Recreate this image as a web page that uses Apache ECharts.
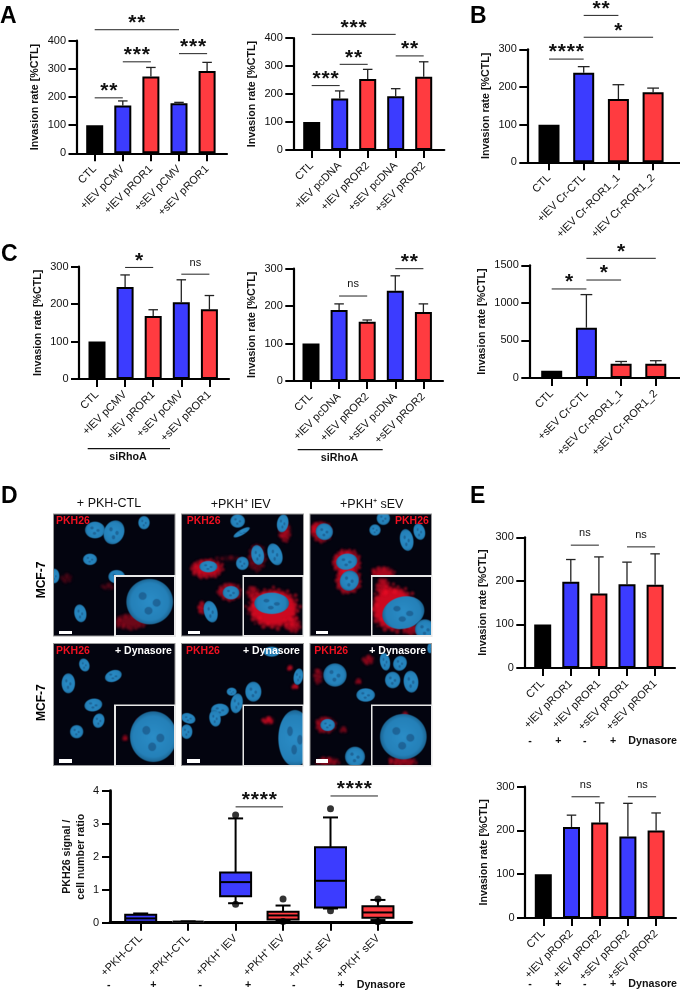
<!DOCTYPE html>
<html>
<head>
<meta charset="utf-8">
<script src="https://cdn.jsdelivr.net/npm/echarts@6/dist/echarts.min.js"></script>
<style>
  html, body { margin: 0; padding: 0; background: #fff; }
  #chart { width: 680px; height: 991px; }
</style>
</head>
<body>
<div id="chart"></div>
<script>
// tick labels
const catsA1 = ['CTL', '+lEV pCMV', '+lEV pROR1', '+sEV pCMV', '+sEV pROR1'];
const catsA2 = ['CTL', '+lEV pcDNA', '+lEV pROR2', '+sEV pcDNA', '+sEV pROR2'];
const catsB = ['CTL', '+lEV Cr-CTL', '+lEV Cr-ROR1_1', '+lEV Cr-ROR1_2'];
const catsC3 = ['CTL', '+sEV Cr-CTL', '+sEV Cr-ROR1_1', '+sEV Cr-ROR1_2'];
const catsD = ['+PKH-CTL', '+PKH-CTL', '+PKH⁺ lEV', '+PKH⁺ lEV', '+PKH⁺ sEV', '+PKH⁺ sEV'];
const catsE1 = ['CTL', '+lEV pROR1', '+lEV pROR1', '+sEV pROR1', '+sEV pROR1'];
const catsE2 = ['CTL', '+lEV pROR2', '+lEV pROR2', '+sEV pROR2', '+sEV pROR2'];

// bar heights and top of the error bar
const valsA1 = [100, 170, 273, 178, 292];
const topsA1 = [null, 186, 305, 181, 323];
const valsA2 = [100, 184, 254, 192, 262];
const topsA2 = [null, 211, 288, 219, 315];
const valsB = [100, 238, 168, 186];
const topsB = [null, 254, 206, 197];
const valsC1 = [100, 246, 168, 205, 186];
const topsC1 = [null, 278, 185, 265, 223];
const valsC2 = [100, 190, 158, 241, 184];
const topsC2 = [null, 206, 163, 281, 206];
const valsC3 = [95, 670, 190, 190];
const topsC3 = [null, 1110, 220, 230];
const valsE1 = [100, 198, 171, 192, 191];
const topsE1 = [null, 249, 255, 243, 262];
const valsE2 = [100, 208, 218, 186, 200];
const topsE2 = [null, 235, 263, 262, 240];

// significance lines: from, to, height, text
const sigA1 = [[0, 3, 439, '**'], [0, 1, 197, '**'], [1, 2, 325, '***'], [3, 4, 354, '***']];
const sigA2 = [[0, 3, 413, '***'], [0, 1, 230, '***'], [1, 2, 306, '**'], [3, 4, 336, '**']];
const sigB = [[0, 1, 274, '****'], [1, 2, 390, '**'], [1, 3, 332, '*']];
const sigC1 = [[1, 2, 298, '*'], [3, 4, 280, 'ns']];
const sigC2 = [[1, 2, 227, 'ns'], [3, 4, 300, '**']];
const sigC3 = [[0, 1, 1185, '*'], [1, 2, 1304, '*'], [1, 3, 1593, '*']];
const sigD = [[2, 3, 3.51, '****'], [4, 5, 3.84, '****']];
const sigE1 = [[1, 2, 282, 'ns'], [3, 4, 278, 'ns']];
const sigE2 = [[1, 2, 277, 'ns'], [3, 4, 277, 'ns']];

// box plot: index, whisker low, q1, median, q3, whisker high
const boxD = [
  [0, 0, 0.03, 0.13, 0.24, 0.28],
  [1, 0.01, 0.02, 0.03, 0.05, 0.05],
  [2, 0.59, 0.8, 1.23, 1.52, 3.16],
  [3, 0.07, 0.1, 0.22, 0.33, 0.52],
  [4, 0.43, 0.46, 1.27, 2.29, 3.19],
  [5, 0.08, 0.15, 0.31, 0.5, 0.69]
];
const outliersD = [[2, 3.26], [2, 0.56], [3, 0.72], [3, 0.04], [4, 3.45], [4, 0.36], [5, 0.72], [5, 0.03]];

const BLUE = '#3c3cff';
const RED = '#ff3b40';
const FONT = '"Liberation Sans", Arial, sans-serif';
const fiveCols = ['#000', BLUE, RED, BLUE, RED];
const fourCols = ['#000', BLUE, RED, RED];
const boxCols = [BLUE, BLUE, BLUE, RED, BLUE, RED];

var panels = [
  { cats: catsA1, vals: valsA1, tops: topsA1, sig: sigA1, cols: fiveCols, ax: 76.5, c0: 94.7, dx: 28.1, end: 227, yMax: 40.7, y0: 153.3, max: 400, step: 100, bw: 17 },
  { cats: catsA2, vals: valsA2, tops: topsA2, sig: sigA2, cols: fiveCols, ax: 293.3, c0: 311.7, dx: 28, end: 444.3, yMax: 38, y0: 150, max: 400, step: 100, bw: 17 },
  { cats: catsB, vals: valsB, tops: topsB, sig: sigB, cols: fourCols, ax: 527.3, c0: 549, dx: 34.7, end: 680, yMax: 49.3, y0: 162.3, max: 300, step: 100, bw: 21 },
  { cats: catsA1, vals: valsC1, tops: topsC1, sig: sigC1, cols: fiveCols, ax: 79, c0: 97, dx: 28.1, end: 229, yMax: 266.7, y0: 379, max: 300, step: 100, bw: 17 },
  { cats: catsA2, vals: valsC2, tops: topsC2, sig: sigC2, cols: fiveCols, ax: 293.3, c0: 311, dx: 28.1, end: 443, yMax: 268.7, y0: 381, max: 300, step: 100, bw: 17 },
  { cats: catsC3, vals: valsC3, tops: topsC3, sig: sigC3, cols: fourCols, ax: 529.3, c0: 551.7, dx: 34.7, end: 680, yMax: 265.3, y0: 378, max: 1500, step: 500, bw: 21, gap: 40 },
  { cats: catsE1, vals: valsE1, tops: topsE1, sig: sigE1, cols: fiveCols, ax: 524.3, c0: 542.7, dx: 28.1, end: 675, yMax: 537.3, y0: 668, max: 300, step: 100, bw: 17 },
  { cats: catsE2, vals: valsE2, tops: topsE2, sig: sigE2, cols: fiveCols, ax: 525, c0: 543.3, dx: 28.2, end: 676, yMax: 786.7, y0: 918, max: 300, step: 100, bw: 17 }
];

var grids = [], xAxes = [], yAxes = [], series = [];

// axes shared by every panel, the x axis is numeric so its line can run past the first and last bar
function addAxes(p, name, gap) {
  var idx = grids.length;
  grids.push({ left: p.ax, top: p.yMax, width: p.end - p.ax, height: p.y0 - p.yMax });
  var ticks = p.cats.map(function (c, i) { return i; });
  xAxes.push({
    gridIndex: idx, type: 'value',
    min: -(p.c0 - p.ax) / p.dx, max: (p.end - p.c0) / p.dx,
    splitLine: { show: false },
    axisLine: { onZero: false, lineStyle: { color: '#000', width: 2.2 } },
    axisTick: { customValues: ticks, length: 8, lineStyle: { color: '#000', width: 2 } },
    axisLabel: {
      customValues: ticks, rotate: 45, margin: 14, color: '#111', fontFamily: FONT, fontSize: 11,
      formatter: function (v) { return p.cats[v]; }
    }
  });
  yAxes.push({
    gridIndex: idx, type: 'value', min: 0, max: p.max, interval: p.step,
    name: name, nameLocation: 'middle', nameGap: gap,
    nameTextStyle: { fontFamily: FONT, fontWeight: 'bold', fontSize: 10.7, color: '#111', lineHeight: 14 },
    splitLine: { show: false },
    axisLine: { onZero: false, lineStyle: { color: '#000', width: 2.2 } },
    axisTick: { length: 8, lineStyle: { color: '#000', width: 2 } },
    axisLabel: { margin: 10.5, color: '#111', fontFamily: FONT, fontSize: 11, formatter: function (v) { return String(v); } }
  });
  return idx;
}

function sigSeries(idx, sig) {
  return {
    type: 'custom', xAxisIndex: idx, yAxisIndex: idx, silent: true, z: 5,
    encode: { x: [0, 1], y: 2 },
    data: sig.map(function (s) { return [s[0], s[1], s[2]]; }),
    renderItem: function (params, api) {
      var a = api.coord([api.value(0), api.value(2)]);
      var b = api.coord([api.value(1), api.value(2)]);
      var label = sig[params.dataIndex][3];
      var mid = (a[0] + b[0]) / 2;
      var kids = [{ type: 'line', shape: { x1: a[0], y1: a[1], x2: b[0], y2: a[1] }, style: { stroke: '#222', lineWidth: 1 } }];
      if (label === 'ns') {
        kids.push({ type: 'text', style: { x: mid, y: a[1] - 11.7, text: label, align: 'center', verticalAlign: 'middle', fill: '#111', font: '11px ' + FONT } });
      } else {
        // stars are spaced out in the source, so each one is its own text
        for (var k = 0; k < label.length; k++) {
          kids.push({
            type: 'text',
            style: {
              x: mid + (k - (label.length - 1) / 2) * 9, y: a[1] - 6.5, text: '*',
              align: 'center', verticalAlign: 'middle', fill: '#111', font: 'bold 21px ' + FONT
            }
          });
        }
      }
      return { type: 'group', children: kids };
    }
  };
}

panels.forEach(function (p) {
  var idx = addAxes(p, 'Invasion rate [%CTL]', p.gap || 34);
  series.push({
    type: 'bar', xAxisIndex: idx, yAxisIndex: idx, barWidth: p.bw, silent: true,
    data: p.vals.map(function (v, i) {
      return { value: [i, v], itemStyle: { color: p.cols[i], borderColor: '#000', borderWidth: 2 } };
    })
  });
  var errs = [];
  p.tops.forEach(function (t, i) { if (t !== null) errs.push([i, p.vals[i], t]); });
  var cap = p.bw * 0.28;
  series.push({
    type: 'custom', xAxisIndex: idx, yAxisIndex: idx, silent: true,
    encode: { x: 0, y: [1, 2] },
    data: errs,
    renderItem: function (params, api) {
      var lo = api.coord([api.value(0), api.value(1)]);
      var hi = api.coord([api.value(0), api.value(2)]);
      var st = { stroke: '#222', lineWidth: 1.3 };
      return {
        type: 'group',
        children: [
          { type: 'line', shape: { x1: lo[0], y1: lo[1], x2: hi[0], y2: hi[1] }, style: st },
          { type: 'line', shape: { x1: hi[0] - cap, y1: hi[1], x2: hi[0] + cap, y2: hi[1] }, style: st }
        ]
      };
    }
  });
  series.push(sigSeries(idx, p.sig));
});

// panel D box plot
var pD = { cats: catsD, ax: 110, c0: 140.7, dx: 47.45, end: 411.7, yMax: 790.7, y0: 922.7, max: 4, step: 1 };
var idxD = addAxes(pD, 'PKH26 signal /\ncell number ratio', 22);
xAxes[idxD].axisLine.lineStyle.width = 2.8;
yAxes[idxD].axisLine.lineStyle.width = 2.8;
yAxes[idxD].axisLabel.margin = 11;
series.push({
  type: 'custom', xAxisIndex: idxD, yAxisIndex: idxD, silent: true,
  encode: { x: 0, y: [1, 2, 3, 4, 5] },
  data: boxD,
  renderItem: function (params, api) {
    var i = api.value(0);
    var px = function (v) { return api.coord([i, v]); };
    var low = px(api.value(1)), q1 = px(api.value(2)), med = px(api.value(3)), q3 = px(api.value(4)), high = px(api.value(5));
    var x = low[0], hw = 15.5, cap = 7.5;
    var st = { stroke: '#000', lineWidth: 2 };
    var line = function (x1, y1, x2, y2) {
      return { type: 'line', shape: { x1: x1, y1: y1, x2: x2, y2: y2 }, style: st };
    };
    return {
      type: 'group',
      children: [
        line(x, low[1], x, high[1]),
        line(x - cap, low[1], x + cap, low[1]),
        line(x - cap, high[1], x + cap, high[1]),
        {
          type: 'rect',
          shape: { x: x - hw, y: q3[1], width: hw * 2, height: q1[1] - q3[1] },
          style: { fill: boxCols[params.dataIndex], stroke: params.dataIndex === 1 ? '#999' : '#000', lineWidth: params.dataIndex === 1 ? 1 : 2 }
        },
        line(x - hw, med[1], x + hw, med[1])
      ]
    };
  }
});
series.push({
  type: 'scatter', xAxisIndex: idxD, yAxisIndex: idxD, silent: true, symbolSize: 7,
  itemStyle: { color: '#000' }, data: outliersD
});
series.push(sigSeries(idxD, sigD));

// micrographs are pictures in the source, painted here on a plain canvas in 3x page units
var nuclei = [
  [[285,150,30,25,0],[342,157,30,37,25],[432,128,17,20,0],[270,238,21,17,0],[163,288,15,22,0],[350,290,25,20,0],[241,400,18,27,-10]],
  [[713,123,22,20,0],[725,157,28,8,-30],[848,130,17,27,10],[625,260,27,17,0],[727,250,19,20,0],[773,225,19,30,-10],[825,223,21,34,-20],[693,338,25,20,0],[632,395,20,33,-15]],
  [[973,155,26,25,20],[1040,245,32,24,-10],[1048,302,28,31,25],[1125,150,17,17,0],[1220,180,20,33,-10],[1150,115,20,20,0],[1258,155,17,25,-15]],
  [[253,555,15,20,-20],[205,610,20,30,0],[340,588,26,17,-20],[280,675,27,19,-10],[296,722,17,22,15],[230,755,20,20,0]],
  [[815,515,25,15,0],[895,590,14,25,10],[760,635,24,30,0],[710,670,18,30,10],[695,635,15,12,0],[660,690,27,19,0],[645,715,17,25,-10],[565,715,22,15,20],[560,755,17,22,0]],
  [[1005,585,35,35,0],[1155,545,15,27,-10],[1200,550,20,23,25],[1178,600,23,25,0],[1233,605,22,33,-5],[1097,645,28,20,0],[983,735,22,18,0],[1290,505,8,15,0],[1065,830,30,30,0]]
];
var stains = [
  [[200,295,14,10,.25],[325,320,16,6,.3]],
  [[622,265,42,24,.8],[855,155,14,26,.65],[690,335,30,22,.65],[605,385,7,16,.8],[772,232,22,36,.35],[690,235,36,3,.4]],
  [[965,155,26,26,.65],[1040,245,36,32,.8],[1045,300,32,34,.75],[1150,280,30,16,.7],[945,145,6,12,.7]],
  [],
  [[885,620,8,3,.95],[870,565,5,3,.9]],
  [[955,590,10,18,.5],[1105,540,14,10,.6],[1075,605,7,4,.6],[978,735,26,20,.6],[1030,750,9,5,.5],[985,845,30,9,.6]]
];
var tiles = [[160,102,525,468],[545,102,911,468],[930,102,1295,468],[160,490,525,857],[545,490,911,857],[930,490,1295,857]];
var insets = [
  { box: [345,288,525,468], red: [[395,425,42,20,.45],[505,385,6,4,.3]], nuc: [[449,365,70,68,0]] },
  { box: [730,288,910,468], red: [[820,385,70,54,.85],[880,435,20,18,.7],[760,340,16,16,.6]], nuc: [[815,370,52,32,0]] },
  { box: [1115,288,1295,468], red: [[1180,385,60,62,.85],[1150,320,18,20,.7],[1240,450,26,12,.6]], nuc: [[1210,398,64,48,-15],[1275,448,30,30,0]] },
  { box: [345,676,525,857], red: [[375,775,5,4,.6],[415,725,4,3,.6]], nuc: [[460,770,70,76,0]] },
  { box: [730,676,910,857], red: [[805,722,14,7,.95]], nuc: [[885,775,50,85,0]] },
  { box: [1115,676,1295,857], red: [[1215,705,7,4,.7],[1210,845,38,11,.6]], nuc: [[1210,770,70,68,0]] }
];
var scaleBars = [[178,452],[563,452],[947,452],[178,838],[562,838],[948,838]];

function paintMicro() {
  var cv = document.createElement('canvas');
  cv.width = 1380; cv.height = 870;
  var c = cv.getContext('2d');
  function ell(x, y, rx, ry, rot) {
    c.beginPath();
    c.ellipse(x, y, rx, ry, (rot || 0) * Math.PI / 180, 0, Math.PI * 2);
  }
  function paintRed(list) {
    list.forEach(function (r) {
      c.filter = 'blur(6px)';
      c.fillStyle = 'rgba(240,10,35,' + r[4] + ')';
      ell(r[0], r[1], r[2], r[3], 0);
      c.fill();
      // uneven edge: a sunflower spread of soft dots around the stain, with varying size
      c.filter = 'blur(3px)';
      c.fillStyle = 'rgba(240,15,40,' + r[4] * 0.6 + ')';
      var n = Math.min(40, Math.round(r[2] * r[3] / 40) + 3);
      for (var k = 0; k < n; k++) {
        var a = k * 2.39996, d = 0.7 + 0.5 * Math.sqrt(k / n), s = 3 + (k * 7) % 5;
        ell(r[0] + Math.cos(a) * r[2] * d, r[1] + Math.sin(a) * r[3] * d, s, s, 0);
        c.fill();
      }
    });
    c.filter = 'none';
  }
  function paintNuc(n) {
    var g = c.createRadialGradient(n[0], n[1], 0, n[0], n[1], Math.max(n[2], n[3]));
    g.addColorStop(0, '#2a8cc6');
    g.addColorStop(0.8, '#2480b8');
    g.addColorStop(1, '#1b6390');
    c.filter = 'blur(1.5px)';
    c.fillStyle = g;
    ell(n[0], n[1], n[2], n[3], n[4]);
    c.fill();
    c.fillStyle = 'rgba(18,60,105,.45)';
    [[-.3, -.25], [.3, .05], [-.05, .4]].forEach(function (o) {
      ell(n[0] + o[0] * n[2], n[1] + o[1] * n[3], n[2] * .17, n[3] * .17, 0);
      c.fill();
    });
    c.filter = 'none';
  }
  function paintTile(b, fn, border, w) {
    c.save();
    c.beginPath();
    c.rect(b[0], b[1], b[2] - b[0], b[3] - b[1]);
    c.clip();
    c.fillStyle = '#03040f';
    c.fillRect(b[0], b[1], b[2] - b[0], b[3] - b[1]);
    fn();
    c.restore();
    c.strokeStyle = border;
    c.lineWidth = w;
    c.strokeRect(b[0], b[1], b[2] - b[0], b[3] - b[1]);
  }
  tiles.forEach(function (b, t) {
    paintTile(b, function () {
      paintRed(stains[t]);
      nuclei[t].forEach(paintNuc);
    }, '#9a9a9a', 3);
    paintTile(insets[t].box, function () {
      paintRed(insets[t].red);
      insets[t].nuc.forEach(paintNuc);
    }, '#e8e8e8', 5);
    c.fillStyle = '#fff';
    c.fillRect(scaleBars[t][0], scaleBars[t][1], 37, 11);
  });
  return cv;
}

function txt(x, y, text, font, fill, align, rotation) {
  return {
    type: 'text', x: x, y: y, rotation: rotation || 0, silent: true,
    style: { text: text, font: font, fill: fill || '#111', align: align || 'center', verticalAlign: 'middle' }
  };
}
function dash(x1, x2, y) {
  return { type: 'line', silent: true, shape: { x1: x1, y1: y, x2: x2, y2: y }, style: { stroke: '#111', lineWidth: 1.2 } };
}

var BOLD = 'bold 10.7px ' + FONT;
var LETTER = 'bold 23px ' + FONT;
var LABEL = 'bold 10.5px ' + FONT;
var HEAD = '12.5px ' + FONT;
var graphics = [
  { type: 'image', silent: true, x: 0, y: 480, style: { image: paintMicro(), x: 0, y: 0, width: 460, height: 290 } },
  txt(0, 17, 'A', LETTER, '#000', 'left'),
  txt(470, 17, 'B', LETTER, '#000', 'left'),
  txt(1, 255, 'C', LETTER, '#000', 'left'),
  txt(1, 497, 'D', LETTER, '#000', 'left'),
  txt(470, 497, 'E', LETTER, '#000', 'left'),
  dash(87.7, 170, 448.7), txt(128, 457.5, 'siRhoA', BOLD),
  dash(297.7, 382.7, 449.7), txt(339.5, 458.5, 'siRhoA', BOLD),
  txt(109, 504, '+ PKH-CTL', HEAD), txt(240.7, 504.5, '+PKH⁺ lEV', HEAD), txt(371.7, 504.5, '+PKH⁺ sEV', HEAD),
  txt(42, 580, 'MCF-7', 'bold 12px ' + FONT, '#000', 'center', Math.PI / 2),
  txt(42, 702.7, 'MCF-7', 'bold 12px ' + FONT, '#000', 'center', Math.PI / 2),
  txt(56, 520.7, 'PKH26', LABEL, '#f01020', 'left'), txt(186.7, 521, 'PKH26', LABEL, '#f01020', 'left'), txt(395, 521, 'PKH26', LABEL, '#f01020', 'left'),
  txt(56, 650.7, 'PKH26', LABEL, '#f01020', 'left'), txt(186, 650.7, 'PKH26', LABEL, '#f01020', 'left'), txt(314.3, 650.7, 'PKH26', LABEL, '#f01020', 'left'),
  txt(115, 650.7, '+ Dynasore', LABEL, '#fff', 'left'), txt(243, 650.7, '+ Dynasore', LABEL, '#fff', 'left'), txt(369.3, 650.7, '+ Dynasore', LABEL, '#fff', 'left')
];

// the +/- rows under panels D and E
function signRow(xs, y, labelX) {
  ['-', '+', '-', '+', '-', '+'].slice(0, xs.length).forEach(function (s, i) {
    graphics.push(txt(xs[i], y, s, BOLD));
  });
  graphics.push(txt(labelX, y, 'Dynasore', BOLD, '#111', 'left'));
}
signRow([108.7, 153.3, 200.3, 248, 293.7, 341.3], 985.3, 356.7);
signRow([530, 558.3, 584.7, 613], 741, 628.3);
signRow([530, 558.3, 584.7, 613], 984, 628.3);

var chart = echarts.init(document.getElementById('chart'), null, { renderer: 'canvas' });
chart.setOption({
  animation: false,
  backgroundColor: '#fff',
  textStyle: { fontFamily: FONT },
  grid: grids,
  xAxis: xAxes,
  yAxis: yAxes,
  series: series,
  graphic: graphics
});
</script>
</body>
</html>
